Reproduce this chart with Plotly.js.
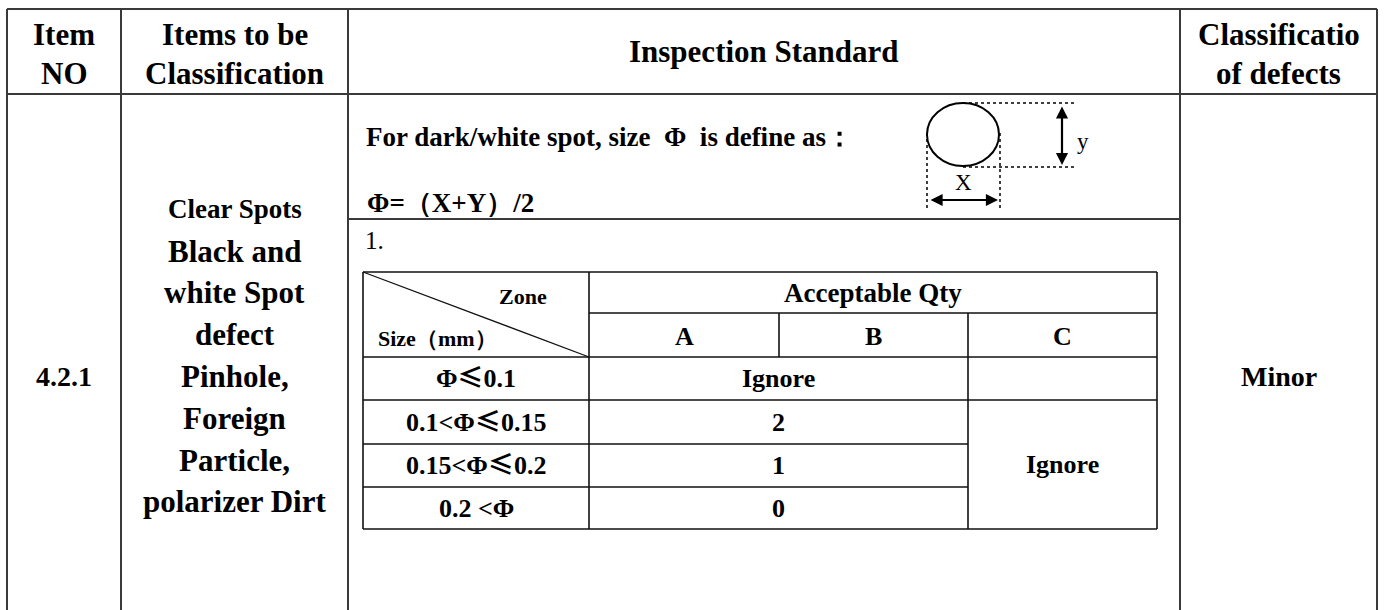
<!DOCTYPE html>
<html>
<head>
<meta charset="utf-8">
<script src="https://cdn.plot.ly/plotly-3.0.1.min.js"></script>
<style>html,body{margin:0;padding:0;background:#fff;}#chart{width:1384px;height:610px;}</style>
</head>
<body>
<div id="chart"></div>
<script>
// ---- table content ----
const headerLines = [["Item", "NO"], ["Items to be", "Classification"], ["Inspection Standard"], ["Classificatio", "of defects"]];
const itemNo = "4.2.1";
const itemTitle = "Clear Spots";
const itemDesc = ["Black and", "white Spot", "defect", "Pinhole,", "Foreign", "Particle,", "polarizer Dirt"];
const defectClass = "Minor";
const defineText = "For dark/white spot, size  Φ  is define as：";
const formulaText = "Φ=（X+Y）/2";
const stepLabel = "1.";
const cornerLabels = ["Zone", "Size（mm）"];
const qtyHeader = "Acceptable Qty";
const zones = ["A", "B", "C"];
const sizeRanges = ["Φ≤0.1", "0.1<Φ≤0.15", "0.15<Φ≤0.2", "0.2 <Φ"];
const qtyAB = ["Ignore", "2", "1", "0"];
const qtyC = "Ignore";
const dimLabels = ["X", "y"];

// ---- layout geometry ----
const W = 1384, H = 610;
const colX = [7, 121, 348, 1180, 1377];
const topY = 9, headY = 94, divY = 219;
const tX = [363, 589, 779, 968, 1157];
const tY = [272, 313, 357, 400, 444, 487, 529];

const SERIF = "Liberation Serif";
const CJK = "Noto Sans CJK SC";
const shapes = [];
const annotations = [];
function line(x0, y0, x1, y1, opt) {
  opt = opt || {};
  shapes.push({type: "line", xref: "x", yref: "y", x0: x0, y0: y0, x1: x1, y1: y1,
    line: {color: opt.color || "#222", width: opt.width || 1.6, dash: opt.dash || "solid"}});
}
function cjkSym(s) {
  return s.replace(/≤/g, '<span style="font-family:' + CJK + '">≤</span>');
}
function txt(x, y, text, size, opt) {
  opt = opt || {};
  annotations.push({xref: "x", yref: "y", x: x, y: y, text: opt.normal ? text : "<b>" + text + "</b>", showarrow: false,
    xanchor: opt.xanchor || "center", yanchor: "middle",
    font: {family: SERIF, size: size, color: "#000"}});
}

// outer grid
const outer = "#3a3a3a";
line(colX[0], topY, colX[4], topY, {color: outer, width: 2});
line(colX[0], headY, colX[4], headY, {color: outer, width: 2});
colX.forEach(x => line(x, topY, x, H + 5, {color: outer, width: 2}));
line(colX[2], divY, colX[3], divY, {color: outer, width: 2});

// header text
const headerLineY = [[34, 73], [34, 73], [51], [34, 73]];
headerLines.forEach((lines, i) => {
  const cx = (colX[i] + colX[i + 1]) / 2;
  lines.forEach((t, j) => txt(cx, headerLineY[i][j], t, 31));
});

// body: item no, description, class
txt((colX[0] + colX[1]) / 2, 376, itemNo, 28);
const descX = (colX[1] + colX[2]) / 2;
txt(descX, 209, itemTitle, 27);
itemDesc.forEach((t, i) => txt(descX, 251 + i * 41.8, t, 31));
txt((colX[3] + colX[4]) / 2, 376, defectClass, 28);

// definition block
txt(364, 137, defineText, 27, {xanchor: "left"});
txt(365, 203, formulaText, 27, {xanchor: "left"});
txt(363, 240, stepLabel, 25, {xanchor: "left", normal: true});

// circle diagram
shapes.push({type: "circle", xref: "x", yref: "y", x0: 927, x1: 999, y0: 103, y1: 166, line: {color: "#000", width: 2}});
line(963, 103, 1076, 103, {color: "#000", width: 1.5, dash: "dot"});
line(963, 167, 1076, 167, {color: "#000", width: 1.5, dash: "dot"});
line(927, 133, 927, 208, {color: "#000", width: 1.5, dash: "dot"});
line(1000, 133, 1000, 208, {color: "#000", width: 1.5, dash: "dot"});
function arrow(x0, y0, x1, y1) {
  annotations.push({xref: "x", yref: "y", axref: "x", ayref: "y", x: x1, y: y1, ax: x0, ay: y0,
    text: "", showarrow: true, arrowhead: 2, startarrowhead: 2, arrowside: "end+start",
    arrowsize: 1.1, startarrowsize: 1.1, arrowwidth: 2.2, arrowcolor: "#000", standoff: 0, startstandoff: 0});
}
arrow(1062, 105, 1062, 165);
arrow(929, 200, 998, 200);
txt(963, 182, dimLabels[0], 23, {normal: true});
txt(1083, 141, dimLabels[1], 23, {normal: true});

// inner table grid
const ic = "#111";
line(tX[0], tY[0], tX[4], tY[0], {color: ic});
line(tX[1], tY[1], tX[4], tY[1], {color: ic});
line(tX[0], tY[2], tX[4], tY[2], {color: ic});
line(tX[0], tY[3], tX[4], tY[3], {color: ic});
line(tX[0], tY[4], tX[3], tY[4], {color: ic});
line(tX[0], tY[5], tX[3], tY[5], {color: ic});
line(tX[0], tY[6], tX[4], tY[6], {color: ic});
line(tX[0], tY[0], tX[0], tY[6], {color: ic});
line(tX[1], tY[0], tX[1], tY[6], {color: ic});
line(tX[2], tY[1], tX[2], tY[2], {color: ic});
line(tX[3], tY[1], tX[3], tY[6], {color: ic});
line(tX[4], tY[0], tX[4], tY[6], {color: ic});
line(tX[0], tY[0], tX[1], tY[2], {color: ic, width: 1.3});

// inner table text
txt(523, 296, cornerLabels[0], 22);
txt(376, 338, cornerLabels[1], 22, {xanchor: "left"});
txt((tX[1] + tX[4]) / 2, 293, qtyHeader, 27);
zones.forEach((z, i) => txt((tX[i + 1] + tX[i + 2]) / 2, 336, z, 26));
const rowC = [0, 1, 2, 3].map(i => (tY[i + 2] + tY[i + 3]) / 2);
sizeRanges.forEach((s, i) => txt((tX[0] + tX[1]) / 2, rowC[i] - (s.indexOf("≤") >= 0 ? 3 : 0), cjkSym(s), 26));
qtyAB.forEach((q, i) => txt((tX[1] + tX[3]) / 2, rowC[i], q, 26));
txt((tX[3] + tX[4]) / 2, (tY[3] + tY[6]) / 2, qtyC, 26);

const layout = {
  width: W, height: H, margin: {l: 0, r: 0, t: 0, b: 0},
  paper_bgcolor: "#fff", plot_bgcolor: "#fff", showlegend: false,
  xaxis: {range: [0, W], visible: false, fixedrange: true},
  yaxis: {range: [H, 0], visible: false, fixedrange: true},
  shapes: shapes, annotations: annotations
};
Plotly.newPlot("chart", [{x: [], y: [], type: "scatter", mode: "markers", hoverinfo: "skip"}], layout, {staticPlot: true, displayModeBar: false});
</script>
</body>
</html>
